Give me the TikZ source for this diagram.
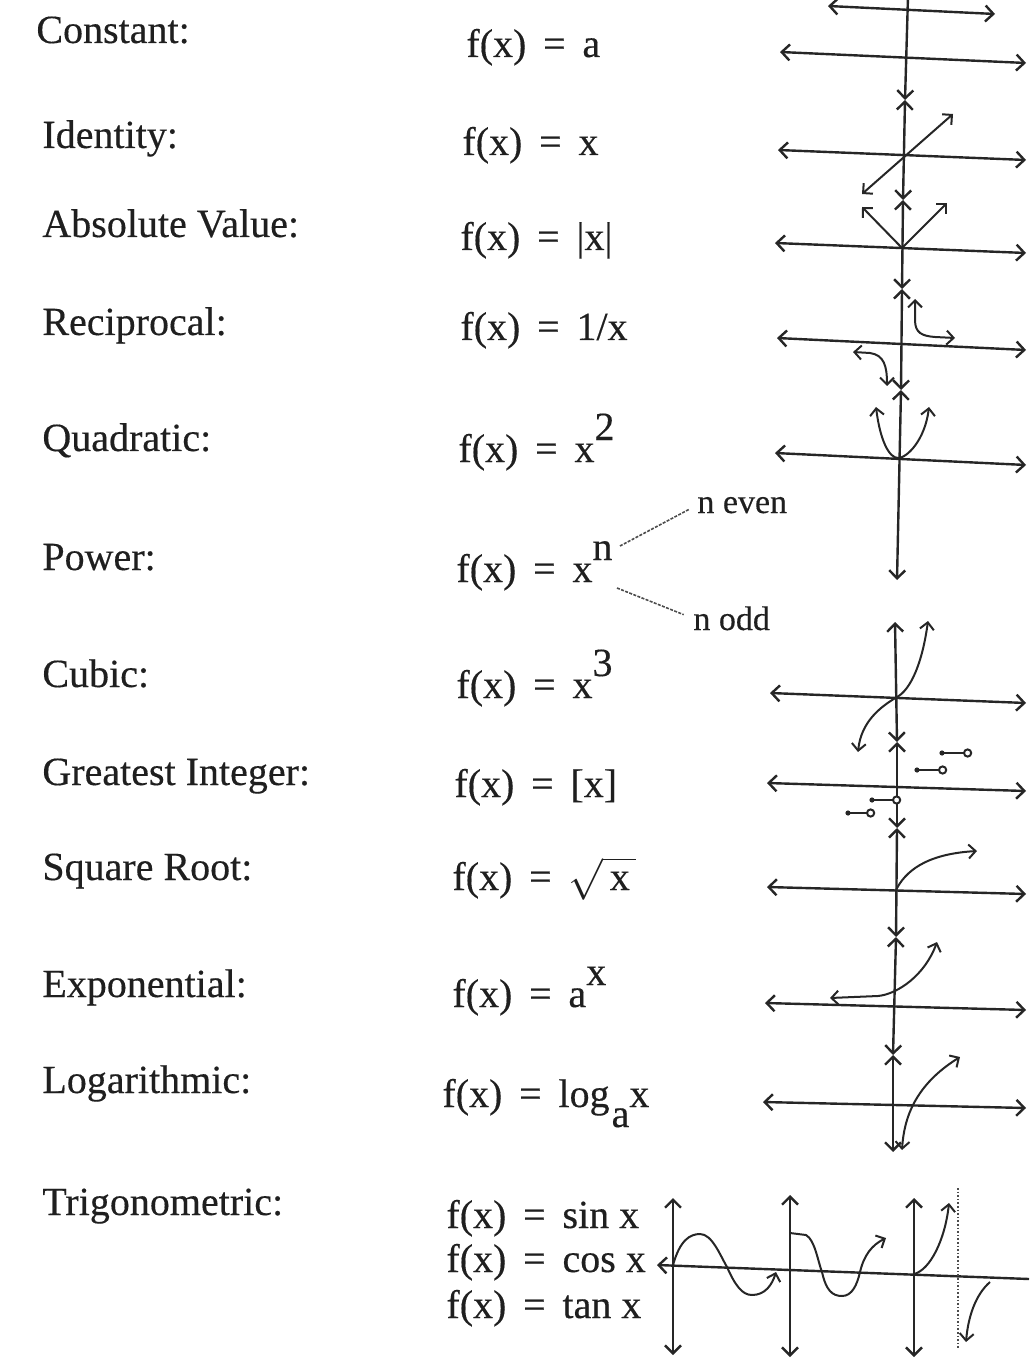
\documentclass[tikz,border=0pt]{standalone}
\usepackage{fontspec}
\setmainfont{Liberation Serif}[FakeBold=0.35]
\usetikzlibrary{arrows.meta}
\newcommand\eqs{\hspace{0.42em}=\hspace{0.42em}}
\begin{document}
\begin{tikzpicture}[x=0.5pt,y=-0.5pt,
  >={Straight Barb[length=4pt,width=8pt]},
  lab/.style={anchor=base west,inner sep=0pt,font=\fontsize{20}{24}\selectfont,text=black!88},
  small/.style={anchor=base west,inner sep=0pt,font=\fontsize{17}{20}\selectfont,text=black!88},
  axis/.style={line width=1.2pt,draw=black!85},
  curve/.style={line width=1pt,draw=black!85,>={Straight Barb[length=3.5pt,width=7pt]}},
  gi/.style={line width=1pt,draw=black!85},
  conn/.style={line width=0.8pt,draw=black!70,dash pattern=on 1.5pt off 0.7pt},
  asym/.style={line width=0.8pt,draw=black!70,densely dotted}]
\useasboundingbox (0,0) rectangle (1029,1363);

% ---------- labels ----------
\node[lab] (l1) at (36,43) {Constant:};
\node[lab] (l2) at (42,148) {Identity:};
\node[lab] (l3) at (42,237) {Absolute Value:};
\node[lab] (l4) at (42,335) {Reciprocal:};
\node[lab] (l5) at (42,451) {Quadratic:};
\node[lab] (l6) at (42,570) {Power:};
\node[lab] (l7) at (42,687) {Cubic:};
\node[lab] (l8) at (42,785) {Greatest Integer:};
\node[lab] (l9) at (42,880) {Square Root:};
\node[lab] (l10) at (42,997) {Exponential:};
\node[lab] (l11) at (42,1093) {Logarithmic:};
\node[lab] (l12) at (42,1215) {Trigonometric:};

% ---------- formulas ----------
\node[lab] (f1) at (466,57) {f(x)\eqs a};
\node[lab] (f2) at (462,155) {f(x)\eqs x};
\node[lab] (f3) at (460,250) {f(x)\eqs |x|};
\node[lab] (f4) at (460,340) {f(x)\eqs 1/x};
\node[lab] (f5) at (458,462) {f(x)\eqs x\raisebox{11pt}{2}};
\node[lab] (f6) at (456,582) {f(x)\eqs x\raisebox{11pt}{n}};
\node[lab] (f7) at (456,698) {f(x)\eqs x\raisebox{11pt}{3}};
\node[lab] (f8) at (454,797) {f(x)\eqs [x]};
\node[lab] (f9) at (452,890) {f(x)\eqs $\sqrt{\hbox{\,x\,}}$};
\node[lab] (f10) at (452,1007) {f(x)\eqs a\raisebox{11pt}{x}};
\node[lab] (f11) at (442,1107) {f(x)\eqs log\kern1pt\raisebox{-10pt}{a}x};
\node[lab] (s1) at (446,1228) {f(x)\eqs sin x};
\node[lab] (s2) at (446,1272) {f(x)\eqs cos x};
\node[lab] (s3) at (446,1318) {f(x)\eqs tan x};
\node[small] (ne) at (697,513) {n even};
\node[small] (no) at (693,630) {n odd};
\coordinate (p1) at (620,546);
\coordinate (p2) at (617,588);
\draw[conn,shorten >=4pt] (p1) -- (ne.west);
\draw[conn,shorten >=5pt] (p2) -- (no.west);

% ---------- upper column: vertical axis ----------
\coordinate (T0) at (908,-4);
\coordinate (X1) at (905,100);
\coordinate (X2) at (903,200);
\coordinate (X3) at (902,289);
\coordinate (X4) at (901,390);
\coordinate (B1) at (897,580);
\draw[axis,->] (T0) -- (X1);
\draw[axis,<->] (X1) -- (X2);
\draw[axis,<->] (X2) -- (X3);
\draw[axis,<->] (X3) -- (X4);
\draw[axis,<->] (X4) -- (B1);

% horizontal axes
\draw[axis,<->] (828,6) -- (995,14);      % constant graph
\draw[axis,<->] (780,52) -- (1026,63);
\draw[axis,<->] (778,150) -- (1026,160);
\draw[axis,<->] (775,243) -- (1026,253);
\draw[axis,<->] (777,338) -- (1026,350);
\draw[axis,<->] (775,453) -- (1026,465);

% identity
\draw[curve,<->] (862,194) -- (953,114);
% absolute value
\draw[curve,<->] (862,207) -- (902,248) -- (947,203);
% reciprocal
\draw[curve,<->] (915,299) -- (915,320) .. controls (915,333) and (922,336) .. (935,337) -- (955,338);
\draw[curve,<->] (853,352) -- (870,353) .. controls (884,355) and (887,366) .. (887,386);
% quadratic
\draw[curve,<->] (876,407) .. controls (880,440) and (889,458) .. (898,458) .. controls (907,458) and (925,440) .. (929,407);

% ---------- lower column ----------
\coordinate (C0) at (895,622);
\coordinate (Y1) at (897,742);
\coordinate (Y2) at (897,828);
\coordinate (Y3) at (896,937);
\coordinate (Y4) at (893,1055);
\coordinate (C5) at (893,1152);
\draw[axis,<->] (C0) -- (Y1);
\draw[axis,<->] (Y1) -- (Y2);
\draw[axis,<->] (Y2) -- (Y3);
\draw[axis,<->] (Y3) -- (Y4);
\draw[axis,<->] (Y4) -- (C5);

\draw[axis,<->] (770,693) -- (1026,703);
\draw[axis,<->] (767,783) -- (1026,791);
\draw[axis,<->] (767,887) -- (1026,894);
\draw[axis,<->] (765,1003) -- (1026,1010);
\draw[axis,<->] (763,1102) -- (1026,1108);

% cubic
\draw[curve,<->] (928,621) .. controls (922,665) and (910,690) .. (897,697) .. controls (880,707) and (861,722) .. (858,752);
% greatest integer
\foreach \xa/\xb/\yy in {942/964/753, 917/939/770, 872/893/800, 848/867/813}{
  \fill[black!85] (\xa,\yy) circle (1.3pt);
  \draw[gi] (\xa,\yy) -- (\xb,\yy);
  \draw[gi,fill=white] (\xb,\yy) ++(3.6,0) circle (1.8pt);
}
% square root
\draw[curve,->] (896,890) .. controls (905,872) and (925,854) .. (977,851);
% exponential
\draw[curve,<->] (830,998) -- (878,996) .. controls (898,994) and (925,975) .. (937,942);
% logarithmic
\draw[curve,<->] (902,1150) .. controls (904,1118) and (915,1085) .. (960,1057);

% ---------- trigonometric ----------
\draw[axis,<->] (673,1198) -- (673,1355);
\draw[axis,<->] (790,1195) -- (790,1357);
\draw[axis,<->] (914,1198) -- (914,1357);
\draw[axis,<-] (657,1265) -- (1029,1279);
% sine
\draw[curve,->] (673,1265) .. controls (680,1240) and (690,1234) .. (700,1234)
  .. controls (712,1234) and (720,1255) .. (727,1267)
  .. controls (735,1285) and (742,1295) .. (752,1295)
  .. controls (765,1295) and (772,1285) .. (776,1272);
% cosine
\draw[curve,->] (790,1233) -- (806,1235) .. controls (815,1240) and (818,1262) .. (822,1272)
  .. controls (826,1290) and (832,1296) .. (842,1296)
  .. controls (852,1296) and (857,1285) .. (860,1272)
  .. controls (864,1255) and (872,1245) .. (886,1238);
% tangent
\draw[curve,->] (914,1274) .. controls (930,1270) and (945,1240) .. (949,1203);
\draw[curve,->] (990,1282) .. controls (975,1295) and (968,1318) .. (966,1342);
\draw[asym] (958,1188) -- (958,1348);
\end{tikzpicture}
\end{document}
